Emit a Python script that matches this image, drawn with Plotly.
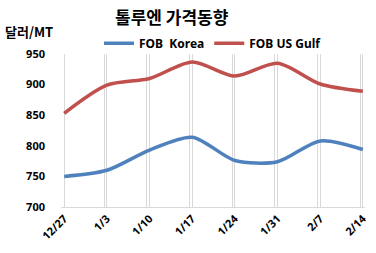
import plotly.graph_objects as go

categories = ["12/27", "1/3", "1/10", "1/17", "1/24", "1/31", "2/7", "2/14"]
korea = [750, 760, 793, 814, 776, 774, 808, 794]
usgulf = [853, 899, 910, 937, 914, 935, 901, 889]
y_ticks = [700, 750, 800, 850, 900, 950]

idx = list(range(len(categories)))
fig = go.Figure()
fig.add_trace(go.Scatter(x=idx, y=korea, name="FOB\u00a0\u00a0Korea", mode="lines",
                         line=dict(color="#4F81BD", width=3.5, shape="spline", smoothing=0.8)))
fig.add_trace(go.Scatter(x=idx, y=usgulf, name="FOB US Gulf", mode="lines",
                         line=dict(color="#C0504D", width=3.5, shape="spline", smoothing=0.8)))
# ghost trace for second gridline axis
fig.add_trace(go.Scatter(x=[idx[0]], y=[korea[0]], xaxis="x2", mode="markers",
                         marker=dict(opacity=0), showlegend=False, hoverinfo="skip"))

tfont = dict(family="Noto Sans, Arial", size=11, color="#000000", weight="bold")
xr = [-0.075, 7.05]
fig.update_layout(
    width=376, height=253,
    margin=dict(l=61, r=7, t=54, b=46),
    paper_bgcolor="white", plot_bgcolor="white",
    showlegend=True,
    legend=dict(orientation="h", x=0.125, xanchor="left", y=1.07, yanchor="middle",
                font=dict(family="Noto Sans, Arial", size=12, color="#000000", weight="bold"),
                itemwidth=30, tracegroupgap=0, bgcolor="rgba(0,0,0,0)"),
    xaxis=dict(range=xr, tickmode="array", tickvals=idx, ticktext=categories,
               tickangle=-45, tickfont=tfont, showgrid=True, gridcolor="#D9D9D9", gridwidth=1,
               showline=True, linecolor="#D9D9D9", linewidth=1, zeroline=False, ticks=""),
    xaxis2=dict(range=xr, overlaying="x", tickmode="array", tickvals=[i - 0.06 for i in idx],
                showticklabels=False, showgrid=True, gridcolor="#D9D9D9", gridwidth=1,
                zeroline=False, showline=False, ticks=""),
    yaxis=dict(range=[700, 950], tickmode="array", tickvals=y_ticks, tickfont=tfont,
               showgrid=False, zeroline=False, showline=False, ticks="", ticklabelstandoff=15),
    annotations=[
        dict(text="톨루엔 가격동향", xref="paper", yref="paper", x=0.364, y=1.245,
             xanchor="center", yanchor="middle", showarrow=False,
             font=dict(family="Noto Sans CJK KR", size=17, color="#000000", weight="bold")),
        dict(text="달러/MT", xref="paper", yref="paper", x=-0.19, y=1.15,
             xanchor="left", yanchor="middle", showarrow=False,
             font=dict(family="Noto Sans CJK KR", size=13, color="#000000", weight="bold")),
    ],
)
fig.write_html("out.html")
